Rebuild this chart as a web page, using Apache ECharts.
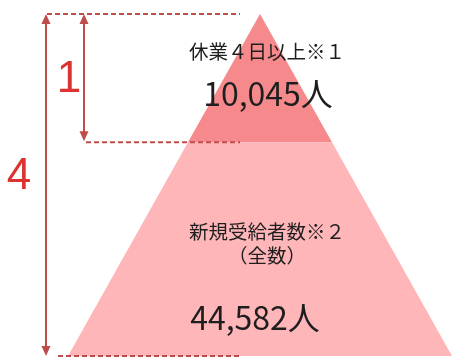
<!DOCTYPE html>
<html>
<head>
<meta charset="utf-8">
<script src="https://cdn.jsdelivr.net/npm/echarts@6/dist/echarts.min.js"></script>
<style>
  html, body { margin: 0; padding: 0; background: #ffffff; }
  #chart { width: 457px; height: 358px; }
</style>
</head>
<body>
<div id="chart"></div>
<script>
// Pyramid tiers, top to bottom
const tierNames = ['休業４日以上※１', '新規受給者数※２\n（全数）'];
const tierValues = [10045, 44582];
const tierUnit = '人';
// Depth of each tier boundary, measured from the apex (0) to the base (1)
const tierBreaks = [0, 0.375, 1];
// Ratio marks shown beside the pyramid
const ratioLabels = ['1', '4'];

const tierColors = ['#f5898c', '#ffb6b9'];
const guideColor = '#bf4c4a';
const ratioColor = '#dd3330';
const textFont = '"Noto Sans CJK JP", sans-serif';

function fmt(v) {
  return v.toLocaleString('en-US') + tierUnit;
}

// Pixel placement of the text inside each tier (offset from the tier's top edge)
const tierText = [
  { nameDy: 38, valueDy: 80, valueDx: 8 },
  { nameDy: 101, valueDy: 176, valueDx: -5 }
];

function renderTier(params, api) {
  const i = api.value(0);
  const d0 = tierBreaks[i];
  const d1 = tierBreaks[i + 1];
  const pts = [
    api.coord([-d0, d0]),
    api.coord([d0, d0]),
    api.coord([d1, d1]),
    api.coord([-d1, d1])
  ];
  const top = pts[0][1];
  const cx = (pts[0][0] + pts[1][0]) / 2;
  const t = tierText[i];
  return {
    type: 'group',
    children: [
      {
        type: 'polygon',
        shape: { points: pts },
        style: { fill: tierColors[i] }
      },
      {
        type: 'text',
        x: cx + 7,
        y: top + t.nameDy,
        style: {
          text: tierNames[i],
          fill: '#1e1e1e',
          font: '19.5px ' + textFont,
          align: 'center',
          verticalAlign: 'middle',
          lineHeight: 24
        }
      },
      {
        type: 'text',
        x: cx + t.valueDx,
        y: top + t.valueDy,
        style: {
          text: fmt(tierValues[i]),
          fill: '#1e1e1e',
          font: '32px ' + textFont,
          align: 'center',
          verticalAlign: 'middle'
        }
      }
    ]
  };
}

function arrow(x, y0, y1) {
  const head = 10, hw = 4.5;
  return [
    { type: 'line', shape: { x1: x, y1: y0 + head - 2, x2: x, y2: y1 - head + 2 },
      style: { stroke: guideColor, lineWidth: 2 } },
    { type: 'polygon', shape: { points: [[x, y0], [x - hw, y0 + head], [x + hw, y0 + head]] },
      style: { fill: guideColor } },
    { type: 'polygon', shape: { points: [[x, y1], [x - hw, y1 - head], [x + hw, y1 - head]] },
      style: { fill: guideColor } }
  ];
}

function renderGuides(params, api) {
  const yApex = api.coord([0, tierBreaks[0]])[1];
  const yMid = api.coord([0, tierBreaks[1]])[1];
  const yBase = api.coord([0, tierBreaks[2]])[1];
  const dash = { stroke: guideColor, lineWidth: 2, lineDash: [5, 3] };
  const children = [
    { type: 'line', shape: { x1: 47, y1: yApex, x2: 240, y2: yApex }, style: dash },
    { type: 'line', shape: { x1: 86, y1: yMid, x2: 240, y2: yMid }, style: dash },
    { type: 'line', shape: { x1: 58, y1: yBase, x2: 240, y2: yBase }, style: dash }
  ].concat(arrow(84, yApex, yMid - 1), arrow(46, yApex, yBase));
  children.push(
    { type: 'text', x: 69, y: (yApex + yMid) / 2 + 2,
      style: { text: ratioLabels[0], fill: ratioColor, font: '44px "Liberation Sans", sans-serif',
               align: 'center', verticalAlign: 'middle' } },
    { type: 'text', x: 19, y: 177,
      style: { text: ratioLabels[1], fill: ratioColor, font: '44px "Liberation Sans", sans-serif',
               align: 'center', verticalAlign: 'middle' } }
  );
  return { type: 'group', children: children };
}

const chart = echarts.init(document.getElementById('chart'), null, { renderer: 'canvas' });
chart.setOption({
  animation: false,
  backgroundColor: '#ffffff',
  grid: { left: 68, right: 5, top: 14, bottom: 2 },
  xAxis: { type: 'value', min: -1, max: 1, show: false },
  yAxis: { type: 'value', min: 0, max: 1, inverse: true, show: false },
  series: [
    {
      type: 'custom',
      clip: false,
      renderItem: renderTier,
      data: tierValues.map((v, i) => [i, v]),
      encode: { x: -1, y: -1 }
    },
    {
      type: 'custom',
      clip: false,
      renderItem: renderGuides,
      data: [[0]],
      encode: { x: -1, y: -1 },
      z: 3
    }
  ]
});
</script>
</body>
</html>
